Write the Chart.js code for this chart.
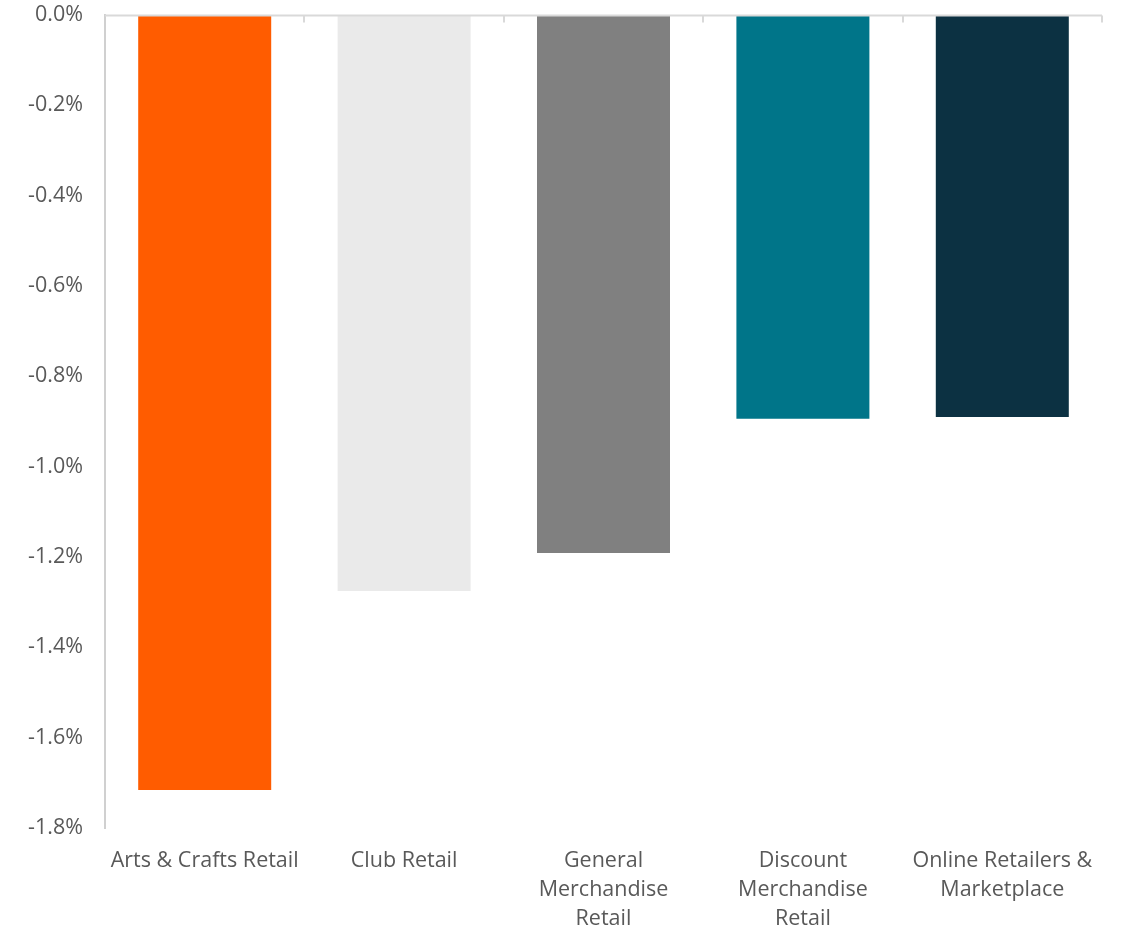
<!DOCTYPE html>
<html>
<head>
<meta charset="utf-8">
<script src="https://cdn.jsdelivr.net/npm/chart.js@4.4.1/dist/chart.umd.min.js"></script>
<style>
  html, body { margin: 0; padding: 0; background: #ffffff; }
  #wrap { width: 1122px; height: 929px; }
</style>
</head>
<body>
<div id="wrap"><canvas id="c" width="1122" height="929"></canvas></div>
<script>
const categories = [
  "Arts & Crafts Retail",
  "Club Retail",
  ["General", "Merchandise", "Retail"],
  ["Discount", "Merchandise", "Retail"],
  ["Online Retailers &", "Marketplace"]
];
const values = [-1.716, -1.275, -1.191, -0.894, -0.890];
const barColors = ["#FF5C00", "#EAEAEA", "#808080", "#007589", "#0C3142"];
const yTicks = [0, -0.2, -0.4, -0.6, -0.8, -1.0, -1.2, -1.4, -1.6, -1.8];

const FONT = "'Open Sans', 'Liberation Sans', sans-serif";
const TEXT = "#595959";

const zeroAxis = {
  id: 'zeroAxis',
  afterDatasetsDraw(chart) {
    const ctx = chart.ctx;
    const xs = chart.scales.x, ys = chart.scales.y;
    const y0 = Math.round(ys.getPixelForValue(0)) + 0.5;
    const n = categories.length;
    const step = (xs.right - xs.left) / n;
    ctx.save();
    ctx.strokeStyle = "#D9D9D9";
    ctx.lineWidth = 2;
    ctx.beginPath();
    ctx.moveTo(xs.left, y0);
    ctx.lineTo(xs.right, y0);
    for (let i = 1; i <= n; i++) {
      const bx = Math.round(xs.getPixelForValue(i - 1) + step / 2);
      ctx.moveTo(bx, y0);
      ctx.lineTo(bx, y0 + 7);
    }
    ctx.stroke();
    ctx.restore();
  }
};

new Chart(document.getElementById('c'), {
  type: 'bar',
  data: {
    labels: categories,
    datasets: [{
      data: values,
      backgroundColor: barColors,
      borderWidth: 0,
      barPercentage: 0.667,
      categoryPercentage: 1.0
    }]
  },
  options: {
    responsive: false,
    animation: false,
    devicePixelRatio: 1,
    layout: { padding: { top: 15, right: 20, left: 0, bottom: 0 } },
    plugins: { legend: { display: false }, tooltip: { enabled: false } },
    scales: {
      x: {
        position: 'bottom',
        grid: { display: false, drawTicks: false },
        border: { display: false },
        ticks: {
          color: TEXT,
          font: { family: FONT, size: 21.5, lineHeight: 1.35 },
          padding: 18,
          maxRotation: 0,
          autoSkip: false
        },
        afterFit(s) { s.height = 101; s.paddingLeft = 0; s.paddingRight = 0; }
      },
      y: {
        min: -1.8,
        max: 0,
        afterBuildTicks(s) { s.ticks = yTicks.map(v => ({ value: v })); },
        grid: { display: false, drawTicks: false },
        border: { display: true, color: "#D0D0D0", width: 2 },
        ticks: {
          color: TEXT,
          font: { family: FONT, size: 21.5 },
          padding: 22,
          callback: (v) => Number(v).toFixed(1) + '%'
        },
        afterFit(s) { s.width = 105; s.paddingTop = 0; s.paddingBottom = 0; }
      }
    }
  },
  plugins: [zeroAxis]
});
</script>
</body>
</html>
